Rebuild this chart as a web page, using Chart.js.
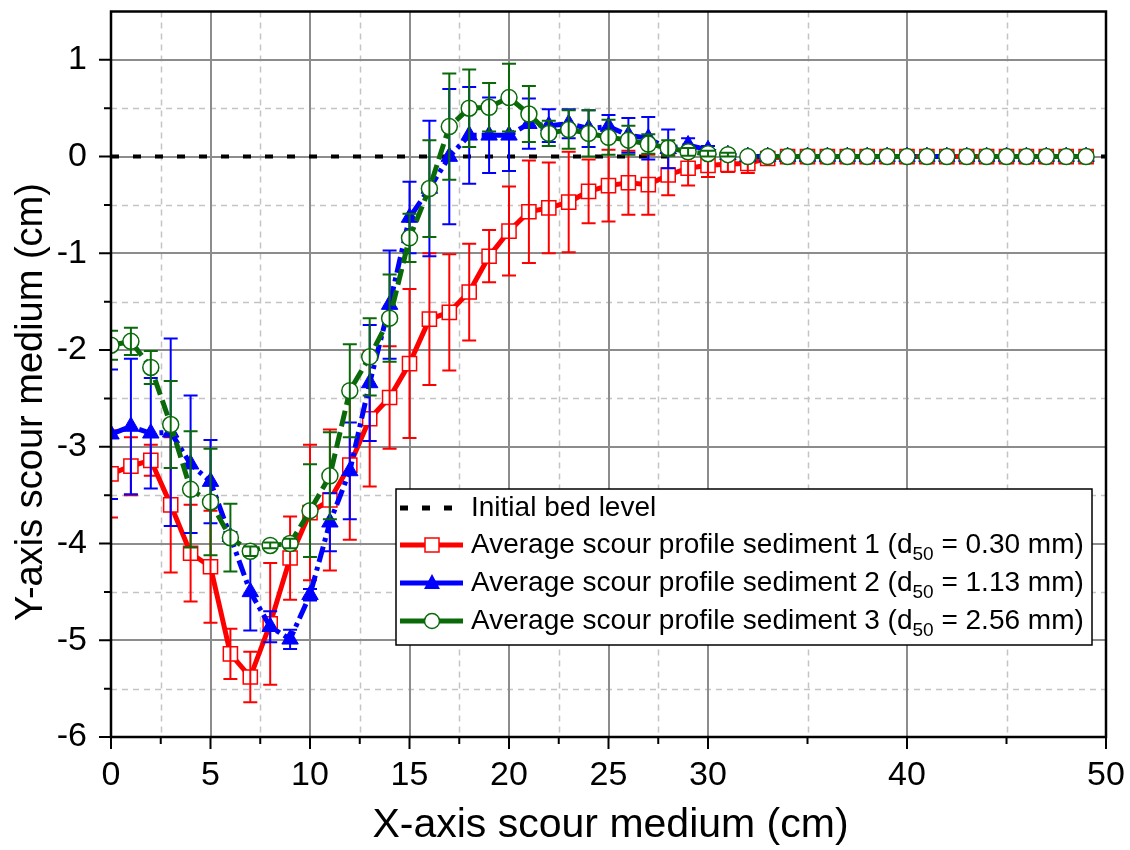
<!DOCTYPE html>
<html>
<head>
<meta charset="utf-8">
<script src="https://cdn.jsdelivr.net/npm/chart.js@4.4.0/dist/chart.umd.min.js"></script>
<style>
  body { margin: 0; background: #fff; }
  #wrap { width: 1130px; height: 850px; position: relative; }
</style>
</head>
<body>
<div id="wrap"><canvas id="scourChart"></canvas></div>
<script>
// x positions of the measured profile points (cm)
var xPositions = [0, 1, 2, 3, 4, 5, 6, 7, 8, 9, 10, 11, 12, 13, 14, 15, 16, 17, 18, 19,
  20, 21, 22, 23, 24, 25, 26, 27, 28, 29, 30, 31, 32, 33, 34, 35, 36, 37, 38, 39,
  40, 41, 42, 43, 44, 45, 46, 47, 48, 49];

// sediment 1 (d50 = 0.30 mm)
var sed1Mean = [-3.28, -3.20, -3.14, -3.60, -4.10, -4.24, -5.14, -5.38, -4.83, -4.15,
  -3.68, -3.55, -3.19, -2.71, -2.49, -2.14, -1.68, -1.61, -1.40, -1.03,
  -0.77, -0.57, -0.53, -0.47, -0.36, -0.30, -0.27, -0.29, -0.19, -0.12,
  -0.09, -0.08, -0.07, -0.02, 0, 0, 0, 0, 0, 0, 0, 0, 0, 0, 0, 0, 0, 0, 0, 0];
var sed1Err = [0.45, 0.30, 0.16, 0.70, 0.50, 0.58, 0.26, 0.26, 0.63, 0.43,
  0.70, 0.73, 0.77, 0.70, 0.53, 0.77, 0.68, 0.60, 0.50, 0.27,
  0.46, 0.53, 0.47, 0.52, 0.33, 0.37, 0.33, 0.31, 0.21, 0.18,
  0.12, 0.08, 0.10, 0.02, 0, 0, 0, 0, 0, 0, 0, 0, 0, 0, 0, 0, 0, 0, 0, 0];

// sediment 2 (d50 = 1.13 mm)
var sed2Mean = [-2.87, -2.79, -2.86, -2.85, -3.18, -3.36, -3.93, -4.50, -4.86, -4.99,
  -4.53, -3.78, -3.25, -2.34, -1.53, -0.63, -0.33, 0.00, 0.22, 0.22,
  0.22, 0.34, 0.32, 0.34, 0.29, 0.31, 0.22, 0.19, 0.08, 0.12,
  0.07, 0.02, 0, 0, 0, 0, 0, 0, 0, 0, 0, 0, 0, 0, 0, 0, 0, 0, 0, 0];
var sed2Err = [0.67, 0.70, 0.57, 0.97, 0.71, 0.43, 0.05, 0.40, 0.16, 0.10,
  0.06, 0.30, 0.50, 0.60, 0.56, 0.37, 0.70, 0.70, 0.50, 0.39,
  0.37, 0.26, 0.17, 0.15, 0.19, 0.12, 0.18, 0.22, 0.20, 0.07,
  0.04, 0.02, 0, 0, 0, 0, 0, 0, 0, 0, 0, 0, 0, 0, 0, 0, 0, 0, 0, 0];

// sediment 3 (d50 = 2.56 mm)
var sed3Mean = [-1.95, -1.91, -2.18, -2.77, -3.44, -3.57, -3.94, -4.08, -4.02, -4.00,
  -3.66, -3.30, -2.42, -2.07, -1.67, -0.84, -0.33, 0.31, 0.50, 0.51,
  0.61, 0.44, 0.24, 0.28, 0.24, 0.20, 0.17, 0.13, 0.09, 0.05,
  0.03, 0.02, 0, 0, 0, 0, 0, 0, 0, 0, 0, 0, 0, 0, 0, 0, 0, 0, 0, 0];
var sed3Err = [0.15, 0.14, 0.17, 0.45, 0.60, 0.55, 0.35, 0.05, 0.03, 0.05,
  0.48, 0.45, 0.48, 0.40, 0.45, 0.25, 0.50, 0.55, 0.40, 0.25,
  0.35, 0.29, 0.13, 0.20, 0.24, 0.18, 0.15, 0.10, 0.08, 0.04,
  0.03, 0.02, 0, 0, 0, 0, 0, 0, 0, 0, 0, 0, 0, 0, 0, 0, 0, 0, 0, 0];

// initial bed level
var bedX = [0, 50];
var bedY = [0, 0];

// axis ticks
var xMajorTicks = [0, 5, 10, 15, 20, 25, 30, 40, 50];
var xMinorTicks = [2.5, 7.5, 12.5, 17.5, 22.5, 27.5, 35, 45];
var yMajorTicks = [-6, -5, -4, -3, -2, -1, 0, 1];
var yMinorTicks = [-5.5, -4.5, -3.5, -2.5, -1.5, -0.5, 0.5];

function toPoints(xs, ys) {
  return xs.map(function (x, i) { return { x: x, y: ys[i] }; });
}

var FONT = "'Liberation Sans', Arial, sans-serif";
Chart.defaults.font.family = FONT;

// grid, frame, tick marks, error bars and axis titles
var framePlugin = {
  id: 'frame',
  beforeDatasetsDraw: function (chart) {
    var ctx = chart.ctx, a = chart.chartArea;
    var xs = chart.scales.x, ys = chart.scales.y;
    ctx.save();
    ctx.lineWidth = 1.5;
    ctx.strokeStyle = '#c4c4c4';
    ctx.setLineDash([6, 5]);
    xMinorTicks.forEach(function (v) {
      var px = Math.round(xs.getPixelForValue(v)) + 0.5;
      ctx.beginPath(); ctx.moveTo(px, a.top); ctx.lineTo(px, a.bottom); ctx.stroke();
    });
    yMinorTicks.forEach(function (v) {
      var py = Math.round(ys.getPixelForValue(v)) + 0.5;
      ctx.beginPath(); ctx.moveTo(a.left, py); ctx.lineTo(a.right, py); ctx.stroke();
    });
    ctx.setLineDash([]);
    ctx.strokeStyle = '#8c8c8c';
    ctx.lineWidth = 2;
    xMajorTicks.forEach(function (v) {
      var px = Math.round(xs.getPixelForValue(v));
      ctx.beginPath(); ctx.moveTo(px, a.top); ctx.lineTo(px, a.bottom); ctx.stroke();
    });
    yMajorTicks.forEach(function (v) {
      var py = Math.round(ys.getPixelForValue(v));
      ctx.beginPath(); ctx.moveTo(a.left, py); ctx.lineTo(a.right, py); ctx.stroke();
    });
    ctx.restore();
  },
  afterDatasetDraw: function (chart, args) {
    var ds = chart.data.datasets[args.index];
    if (!ds.errors) return;
    var ctx = chart.ctx, a = chart.chartArea, ys = chart.scales.y;
    ctx.save();
    ctx.beginPath();
    ctx.rect(a.left, a.top, a.right - a.left, a.bottom - a.top);
    ctx.clip();
    ctx.strokeStyle = ds.borderColor;
    ctx.lineWidth = 2;
    args.meta.data.forEach(function (pt, i) {
      var e = ds.errors[i];
      if (!e) return;
      var mean = ds.data[i].y;
      var yt = ys.getPixelForValue(mean + e), yb = ys.getPixelForValue(mean - e);
      ctx.beginPath();
      ctx.moveTo(pt.x, yt); ctx.lineTo(pt.x, yb);
      ctx.moveTo(pt.x - 7, yt); ctx.lineTo(pt.x + 7, yt);
      ctx.moveTo(pt.x - 7, yb); ctx.lineTo(pt.x + 7, yb);
      ctx.stroke();
    });
    ctx.restore();
  },
  afterDraw: function (chart) {
    var ctx = chart.ctx, a = chart.chartArea;
    var xs = chart.scales.x, ys = chart.scales.y;
    ctx.save();
    // tick marks
    ctx.strokeStyle = '#000';
    ctx.lineWidth = 2;
    ctx.beginPath();
    xMajorTicks.forEach(function (v) {
      var px = xs.getPixelForValue(v);
      ctx.moveTo(px, a.bottom); ctx.lineTo(px, a.bottom + 12);
    });
    xMinorTicks.forEach(function (v) {
      var px = xs.getPixelForValue(v);
      ctx.moveTo(px, a.bottom); ctx.lineTo(px, a.bottom + 7);
    });
    yMajorTicks.forEach(function (v) {
      var py = ys.getPixelForValue(v);
      ctx.moveTo(a.left, py); ctx.lineTo(a.left - 12, py);
    });
    yMinorTicks.forEach(function (v) {
      var py = ys.getPixelForValue(v);
      ctx.moveTo(a.left, py); ctx.lineTo(a.left - 7, py);
    });
    ctx.stroke();
    // frame
    ctx.lineWidth = 2.5;
    ctx.strokeRect(a.left, a.top, a.right - a.left, a.bottom - a.top);
    // axis titles
    ctx.fillStyle = '#000';
    ctx.textAlign = 'center';
    ctx.textBaseline = 'middle';
    ctx.font = '41px ' + FONT;
    ctx.fillText('X-axis scour medium (cm)', (a.left + a.right) / 2 + 2, 826);
    ctx.translate(32, 402);
    ctx.rotate(-Math.PI / 2);
    ctx.font = '38px ' + FONT;
    ctx.fillText('Y-axis scour medium (cm)', 0, 0);
    ctx.restore();
  }
};

// legend box with subscripted d50
var legendPlugin = {
  id: 'customLegend',
  afterDraw: function (chart) {
    var ctx = chart.ctx;
    var bx = 396, by = 489, bw = 696, bh = 156;
    ctx.save();
    ctx.fillStyle = '#fff';
    ctx.fillRect(bx, by, bw, bh);
    ctx.strokeStyle = '#000';
    ctx.lineWidth = 1.5;
    ctx.strokeRect(bx, by, bw, bh);

    var rows = [
      { y: 508, color: '#000', dash: [8, 14], marker: null, text: ['Initial bed level'] },
      { y: 545, color: '#ff0000', dash: [], marker: 'rect', text: ['Average scour profile sediment 1 (d', '50', ' = 0.30 mm)'] },
      { y: 583, color: '#0000ff', dash: [], marker: 'triangle', text: ['Average scour profile sediment 2 (d', '50', ' = 1.13 mm)'] },
      { y: 621, color: '#0a6a0a', dash: [], marker: 'circle', text: ['Average scour profile sediment 3 (d', '50', ' = 2.56 mm)'] }
    ];
    rows.forEach(function (r) {
      ctx.strokeStyle = r.color;
      ctx.lineWidth = 5;
      ctx.setLineDash(r.dash);
      ctx.beginPath();
      ctx.moveTo(400, r.y); ctx.lineTo(463, r.y);
      ctx.stroke();
      ctx.setLineDash([]);
      if (r.marker === 'rect') {
        ctx.fillStyle = '#fff'; ctx.lineWidth = 1.5;
        ctx.fillRect(425, r.y - 7, 14, 14); ctx.strokeRect(425, r.y - 7, 14, 14);
      } else if (r.marker === 'triangle') {
        ctx.fillStyle = r.color;
        ctx.beginPath();
        ctx.moveTo(432, r.y - 9); ctx.lineTo(440, r.y + 6); ctx.lineTo(424, r.y + 6);
        ctx.closePath(); ctx.fill();
      } else if (r.marker === 'circle') {
        ctx.fillStyle = '#fff'; ctx.lineWidth = 1.5;
        ctx.beginPath(); ctx.arc(432, r.y, 7.5, 0, Math.PI * 2); ctx.fill(); ctx.stroke();
      }
      ctx.fillStyle = '#000';
      ctx.textAlign = 'left';
      ctx.textBaseline = 'middle';
      var tx = 471;
      ctx.font = '28px ' + FONT;
      ctx.fillText(r.text[0], tx, r.y);
      if (r.text.length > 1) {
        tx += ctx.measureText(r.text[0]).width;
        ctx.font = '19px ' + FONT;
        ctx.fillText(r.text[1], tx, r.y + 10);
        tx += ctx.measureText(r.text[1]).width;
        ctx.font = '28px ' + FONT;
        ctx.fillText(r.text[2], tx, r.y);
      }
    });
    ctx.restore();
  }
};

function noPad(scale) {
  scale.paddingLeft = 0;
  scale.paddingRight = 0;
  scale.paddingTop = 0;
  scale.paddingBottom = 0;
}

var ctx1 = document.getElementById('scourChart').getContext('2d');
var scourChart = new Chart(ctx1, {
  type: 'line',
  data: {
    datasets: [{
      label: 'Average scour profile sediment 3 (d50 = 2.56 mm)',
      data: toPoints(xPositions, sed3Mean),
      errors: sed3Err,
      borderColor: '#0a6a0a',
      borderWidth: 5,
      borderDash: [16, 6],
      pointStyle: 'circle',
      pointRadius: 8,
      pointBackgroundColor: '#fff',
      pointBorderColor: '#0a6a0a',
      pointBorderWidth: 1.5,
      order: 1
    }, {
      label: 'Average scour profile sediment 2 (d50 = 1.13 mm)',
      data: toPoints(xPositions, sed2Mean),
      errors: sed2Err,
      borderColor: '#0000ff',
      borderWidth: 5,
      borderDash: [16, 5, 4, 5],
      pointStyle: 'triangle',
      pointRadius: 9.5,
      pointBackgroundColor: '#0000ff',
      pointBorderColor: '#0000ff',
      pointBorderWidth: 1,
      order: 2
    }, {
      label: 'Average scour profile sediment 1 (d50 = 0.30 mm)',
      data: toPoints(xPositions, sed1Mean),
      errors: sed1Err,
      borderColor: '#ff0000',
      borderWidth: 5,
      pointStyle: 'rect',
      pointRadius: 10,
      pointBackgroundColor: '#fff',
      pointBorderColor: '#ff0000',
      pointBorderWidth: 1.5,
      order: 3
    }, {
      label: 'Initial bed level',
      data: toPoints(bedX, bedY),
      borderColor: '#000',
      borderWidth: 4,
      borderDash: [8, 14],
      pointRadius: 0,
      order: 4
    }]
  },
  options: {
    responsive: true,
    maintainAspectRatio: false,
    animation: false,
    layout: { padding: { top: 7, right: 24, left: 0, bottom: 0 } },
    elements: { line: { tension: 0 } },
    datasets: { line: { clip: 0 } },
    plugins: {
      legend: { display: false },
      tooltip: { enabled: false }
    },
    scales: {
      x: {
        type: 'linear',
        min: 0,
        max: 50,
        afterBuildTicks: function (scale) {
          scale.ticks = xMajorTicks.map(function (v) { return { value: v }; });
        },
        afterFit: function (scale) { scale.height = 113; noPad(scale); },
        grid: { display: false, drawTicks: false },
        border: { display: false },
        ticks: { color: '#000', font: { size: 34 }, padding: 18, maxRotation: 0, autoSkip: false }
      },
      y: {
        min: -6,
        max: 1.5,
        afterBuildTicks: function (scale) {
          scale.ticks = yMajorTicks.map(function (v) { return { value: v }; });
        },
        afterFit: function (scale) { scale.width = 111; noPad(scale); },
        grid: { display: false, drawTicks: false },
        border: { display: false },
        ticks: { color: '#000', font: { size: 34 }, padding: 24, autoSkip: false }
      }
    }
  },
  plugins: [framePlugin, legendPlugin]
});
</script>
</body>
</html>
